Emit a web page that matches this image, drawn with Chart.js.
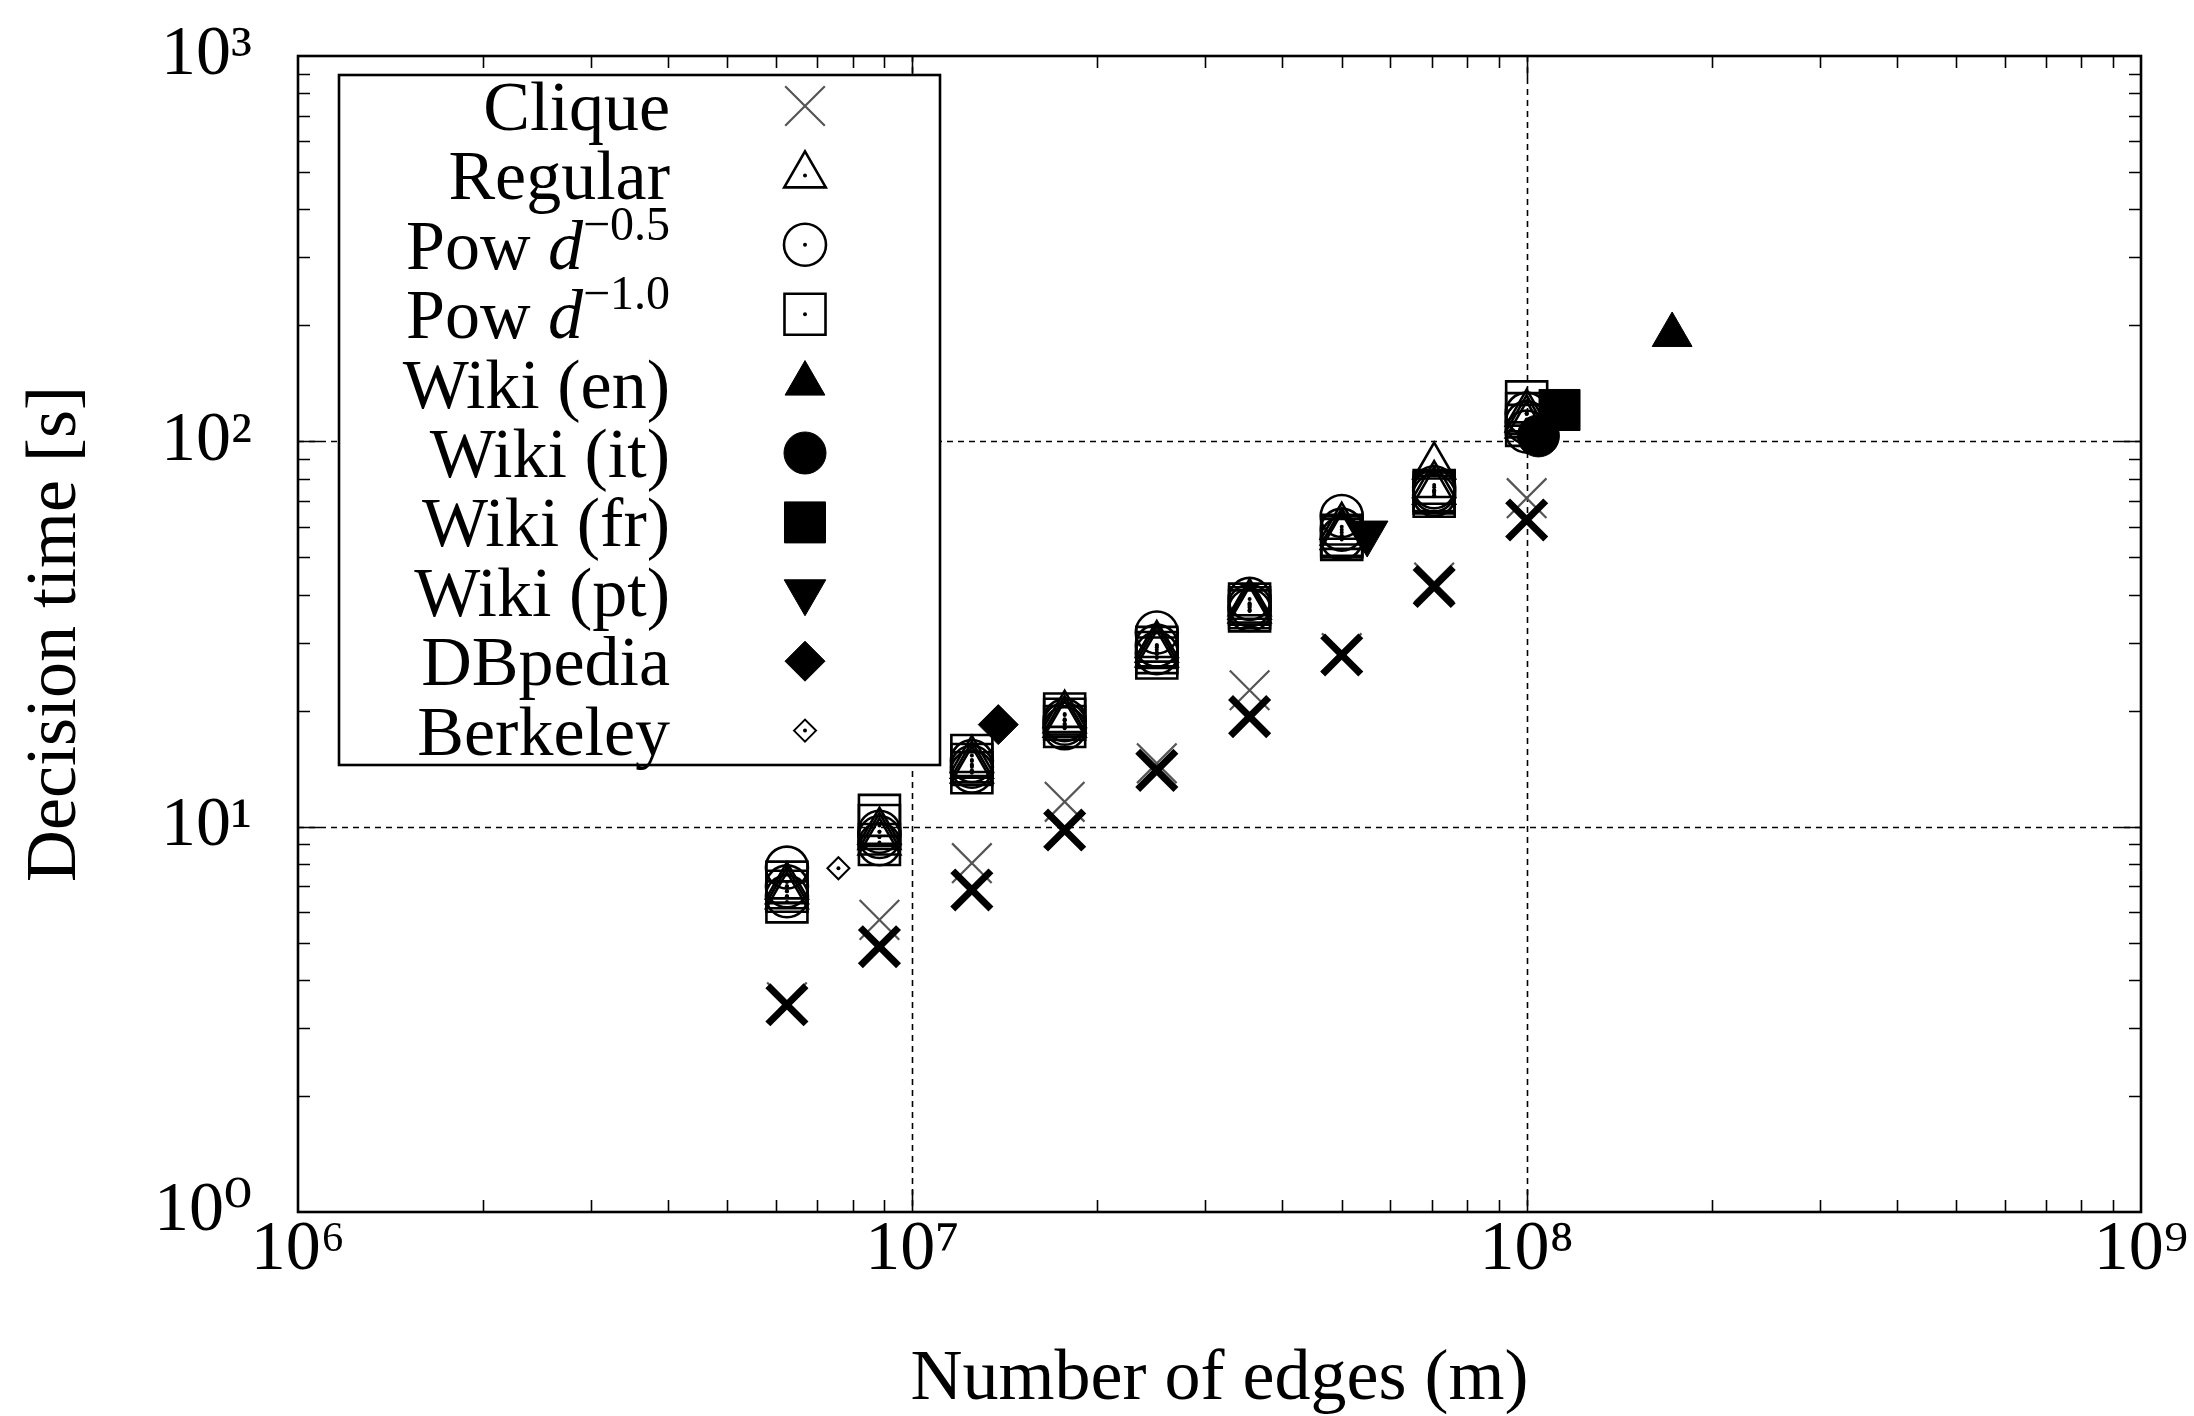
<!DOCTYPE html>
<html>
<head>
<meta charset="utf-8">
<script src="https://cdn.jsdelivr.net/npm/chart.js@4/dist/chart.umd.min.js"></script>
<style>
html,body{margin:0;padding:0;background:#fff;}
#wrap{width:2194px;height:1416px;position:relative;}
</style>
</head>
<body>
<div id="wrap"><canvas id="c" width="2194" height="1416"></canvas></div>
<script>
// ---------------- data ----------------
const sizes = [6.25e6, 8.84e6, 1.25e7, 1.77e7, 2.5e7, 3.54e7, 5.0e7, 7.07e7, 1.0e8];

const cliqueThin = [3.5, 5.73, 8.04, 11.6, 14.6, 22.6, 28.2, 43.0, 71.2];
const cliqueBold = [3.45, 4.88, 6.85, 9.80, 14.0, 19.3, 27.9, 42.0, 62.5];

// three instances per graph size
const regular = [[6.6,6.8,7.0],[9.1,9.4,9.7],[14.0,14.4,14.9],[18.4,18.9,19.5],[28.0,28.8,29.6],
                 [36.4,37.2,38.0],[56.5,58.0,60.0],[74,77,86],[110,114,118]];
const pow05   = [[6.6,7.0,7.83],[9.0,9.4,9.7],[13.9,14.3,14.8],[18.0,18.5,18.9],[28.2,29.5,31.9],
                 [36.5,37.5,39.0],[56.0,59.0,64.0],[72.5,74.5,76.0],[106,112,118]];
const pow10   = [[6.38,6.8,7.18],[8.99,10.07,10.7],[13.8,14.5,15.3],[18.2,19.0,19.6],[27.4,28.3,29.2],
                 [36.3,37.0,37.8],[55.6,56.5,57.0],[72.0,73.5,74.5],[110,118,126.6]];

const wikiEn   = [{x: 1.725e8, y: 188.8}];
const wikiIt   = [{x: 1.045e8, y: 103.3}];
const wikiFr   = [{x: 1.131e8, y: 120.6}];
const wikiPt   = [{x: 5.50e7,  y: 57.8}];
const dbpedia  = [{x: 1.38e7,  y: 18.4}];
const berkeley = [{x: 7.58e6,  y: 7.8}];

const xTickValues = [1e6, 1e7, 1e8, 1e9];
const yTickValues = [1, 10, 100, 1000];
const xTitle = 'Number of edges (m)';
const yTitle = 'Decision time [s]';

// legend labels (rich text parts)
const labels = ['Clique', 'Regular', 'Pow d^-0.5', 'Pow d^-1.0', 'Wiki (en)', 'Wiki (it)', 'Wiki (fr)', 'Wiki (pt)', 'DBpedia', 'Berkeley'];

// ---------------- helpers ----------------
const SUP = {'0':'\u2070','1':'\u00B9','2':'\u00B2','3':'\u00B3','6':'\u2076','7':'\u2077','8':'\u2078','9':'\u2079'};
const fmtTick = v => '10' + SUP[String(Math.round(Math.log10(v)))];
const pts = (xs, ys) => xs.map((x, i) => ({x, y: ys[i]}));
const runs = (xs, groups) => xs.flatMap((x, i) => groups[i].map(y => ({x, y})));

const FONT = "'Liberation Serif', 'DejaVu Serif', serif";

function richParts(label) {
  const m = label.match(/^(.*) d\^(.*)$/);
  if (!m) return [{t: label}];
  return [{t: m[1] + ' '}, {t: 'd', it: true}, {t: m[2].replace('-', '\u2212'), sup: true}];
}

function ownDrawPoint(ctx, o, x, y) {
  const r = o.radius, rot = (o.rotation || 0) * Math.PI / 180;
  ctx.beginPath();
  switch (o.pointStyle) {
    case 'circle': ctx.arc(x, y, r, 0, Math.PI * 2); break;
    case 'rect': { const s = Math.SQRT1_2 * r; ctx.rect(x - s, y - s, 2 * s, 2 * s); break; }
    case 'rectRot': ctx.moveTo(x - r, y); ctx.lineTo(x, y - r); ctx.lineTo(x + r, y); ctx.lineTo(x, y + r); ctx.closePath(); break;
    case 'triangle': {
      let a = rot;
      ctx.moveTo(x + Math.sin(a) * r, y - Math.cos(a) * r); a += 2 * Math.PI / 3;
      ctx.lineTo(x + Math.sin(a) * r, y - Math.cos(a) * r); a += 2 * Math.PI / 3;
      ctx.lineTo(x + Math.sin(a) * r, y - Math.cos(a) * r); ctx.closePath(); break;
    }
    case 'crossRot': {
      const d = Math.SQRT1_2 * r;
      ctx.moveTo(x - d, y - d); ctx.lineTo(x + d, y + d);
      ctx.moveTo(x - d, y + d); ctx.lineTo(x + d, y - d); break;
    }
  }
  if (o.pointStyle !== 'crossRot') ctx.fill();
  if (o.borderWidth > 0) ctx.stroke();
}
const drawPoint = (Chart.helpers && Chart.helpers.drawPoint) ? Chart.helpers.drawPoint : ownDrawPoint;

// ---------------- datasets ----------------
const open = (label, data, style, r, order, extra) => Object.assign({
  label, data, pointStyle: style, pointRadius: r, pointHoverRadius: r,
  borderColor: '#000', backgroundColor: 'rgba(0,0,0,0)', pointBorderWidth: 2.6, borderWidth: 2.6,
  showLine: false, order, centerDot: true
}, extra || {});
const filled = (label, data, style, r, order, extra) => Object.assign({
  label, data, pointStyle: style, pointRadius: r, pointHoverRadius: r,
  borderColor: '#000', backgroundColor: '#000', pointBorderWidth: 1, borderWidth: 1,
  showLine: false, order
}, extra || {});

const datasets = [
  Object.assign(open(labels[0], pts(sizes, cliqueThin), 'crossRot', 28, 12), {borderColor: '#555', pointBorderWidth: 2.2, centerDot: false}),
  Object.assign(open(labels[0], pts(sizes, cliqueBold), 'crossRot', 27, 11), {pointBorderWidth: 7, centerDot: false, hideInLegend: true}),
  open(labels[1], runs(sizes, regular), 'triangle', 24, 10),
  open(labels[2], runs(sizes, pow05), 'circle', 21, 9),
  open(labels[3], runs(sizes, pow10), 'rect', 29, 8),
  filled(labels[4], wikiEn, 'triangle', 23, 7),
  filled(labels[5], wikiIt, 'circle', 21, 6),
  filled(labels[6], wikiFr, 'rect', 29, 5),
  filled(labels[7], wikiPt, 'triangle', 24, 4, {pointRotation: 180}),
  filled(labels[8], dbpedia, 'rectRot', 20, 3),
  Object.assign(open(labels[9], berkeley, 'rectRot', 11, 2), {pointBorderWidth: 2})
];

// ---------------- plugins ----------------
const whiteBg = {
  id: 'whiteBg',
  beforeDraw(chart) {
    const ctx = chart.ctx; ctx.save(); ctx.fillStyle = '#fff';
    ctx.fillRect(0, 0, chart.width, chart.height); ctx.restore();
  }
};

const frame = {
  id: 'frame',
  beforeDatasetsDraw(chart) {
    const ctx = chart.ctx, a = chart.chartArea, xs = chart.scales.x, ys = chart.scales.y;
    ctx.save();
    // dotted grid at decades
    ctx.strokeStyle = '#000'; ctx.lineWidth = 1.6; ctx.setLineDash([6, 5]);
    [1e7, 1e8].forEach(v => { const p = Math.round(xs.getPixelForValue(v)) + 0.5;
      ctx.beginPath(); ctx.moveTo(p, a.top); ctx.lineTo(p, a.bottom); ctx.stroke(); });
    [10, 100].forEach(v => { const p = Math.round(ys.getPixelForValue(v)) + 0.5;
      ctx.beginPath(); ctx.moveTo(a.left, p); ctx.lineTo(a.right, p); ctx.stroke(); });
    ctx.setLineDash([]);
    // inward tick marks on all four sides
    ctx.lineWidth = 1.6;
    const tick = (isX, v, len) => {
      ctx.beginPath();
      if (isX) { const p = Math.round(xs.getPixelForValue(v)) + 0.5;
        ctx.moveTo(p, a.bottom); ctx.lineTo(p, a.bottom - len);
        ctx.moveTo(p, a.top); ctx.lineTo(p, a.top + len);
      } else { const p = Math.round(ys.getPixelForValue(v)) + 0.5;
        ctx.moveTo(a.left, p); ctx.lineTo(a.left + len, p);
        ctx.moveTo(a.right, p); ctx.lineTo(a.right - len, p);
      }
      ctx.stroke();
    };
    [6, 7, 8].forEach(d => { for (let m = 2; m <= 9; m++) tick(true, m * Math.pow(10, d), 12); });
    [7, 8].forEach(d => tick(true, Math.pow(10, d), 22));
    [0, 1, 2].forEach(d => { for (let m = 2; m <= 9; m++) tick(false, m * Math.pow(10, d), 12); });
    [1, 2].forEach(d => tick(false, Math.pow(10, d), 22));
    // plot border
    ctx.lineWidth = 2.6;
    ctx.strokeRect(a.left, a.top, a.right - a.left, a.bottom - a.top);
    ctx.restore();
  }
};

const centerDots = {
  id: 'centerDots',
  afterDatasetDraw(chart, args) {
    const ds = chart.data.datasets[args.index];
    if (!ds.centerDot) return;
    const ctx = chart.ctx; ctx.save(); ctx.fillStyle = '#000';
    args.meta.data.forEach(el => { ctx.beginPath(); ctx.arc(el.x, el.y, 2, 0, Math.PI * 2); ctx.fill(); });
    ctx.restore();
  }
};

const boxLegend = {
  id: 'boxLegend',
  afterDatasetsDraw(chart) {
    const ctx = chart.ctx;
    const L = {left: 339, top: 75, w: 601, h: 690, textRight: 670, markX: 805, row0: 106, step: 69.4};
    ctx.save();
    ctx.fillStyle = '#fff'; ctx.fillRect(L.left, L.top, L.w, L.h);
    ctx.strokeStyle = '#000'; ctx.lineWidth = 2.6; ctx.strokeRect(L.left, L.top, L.w, L.h);
    const items = chart.data.datasets.filter(d => !d.hideInLegend);
    const mainSize = 70, supSize = 48;
    items.forEach((ds, i) => {
      const cy = L.row0 + i * L.step;
      const base = cy + 24;
      const parts = richParts(ds.label);
      const fontOf = p => (p.it ? 'italic ' : '') + (p.sup ? supSize : mainSize) + 'px ' + FONT;
      let total = 0;
      parts.forEach(p => { ctx.font = fontOf(p); p.w = ctx.measureText(p.t).width; total += p.w; });
      let x = L.textRight - total;
      ctx.fillStyle = '#000'; ctx.textBaseline = 'alphabetic'; ctx.textAlign = 'left';
      parts.forEach(p => { ctx.font = fontOf(p); ctx.fillText(p.t, x, p.sup ? base - 29 : base); x += p.w; });
      // marker
      ctx.strokeStyle = ds.borderColor; ctx.fillStyle = ds.backgroundColor;
      ctx.lineWidth = ds.pointBorderWidth > 3 ? 2.2 : ds.pointBorderWidth;
      drawPoint(ctx, {pointStyle: ds.pointStyle, radius: ds.pointRadius, rotation: ds.pointRotation || 0,
                      borderWidth: ds.pointBorderWidth}, L.markX, cy);
      if (ds.centerDot) { ctx.fillStyle = '#000'; ctx.beginPath(); ctx.arc(L.markX, cy, 2, 0, Math.PI * 2); ctx.fill(); }
    });
    ctx.restore();
  }
};

// ---------------- chart ----------------
Chart.defaults.font.family = FONT;
Chart.defaults.color = '#000';

new Chart(document.getElementById('c'), {
  type: 'scatter',
  data: { datasets },
  options: {
    responsive: false,
    devicePixelRatio: 1,
    animation: false,
    events: [],
    layout: { padding: { top: 56, right: 53, left: 0, bottom: 0 } },
    plugins: { legend: { display: false }, tooltip: { enabled: false } },
    scales: {
      x: {
        type: 'logarithmic', position: 'bottom', min: 1e6, max: 1e9,
        afterBuildTicks: s => { s.ticks = xTickValues.map(v => ({value: v})); },
        afterFit: s => { s.height = 204; s.paddingLeft = 0; s.paddingRight = 0; },
        grid: { display: false, drawTicks: false },
        border: { display: false },
        ticks: { autoSkip: false, maxRotation: 0, padding: 0, color: '#000',
                 font: { size: 70, family: FONT, lineHeight: 1.1 }, callback: fmtTick },
        title: { display: true, text: xTitle, color: '#000',
                 font: { size: 72, family: FONT, lineHeight: 1 }, padding: { top: 0, bottom: 0 } }
      },
      y: {
        type: 'logarithmic', position: 'left', min: 1, max: 1000,
        afterBuildTicks: s => { s.ticks = yTickValues.map(v => ({value: v})); },
        afterFit: s => { s.width = 298; s.paddingTop = 0; s.paddingBottom = 0; },
        grid: { display: false, drawTicks: false },
        border: { display: false },
        ticks: { autoSkip: false, padding: 46, color: '#000',
                 font: { size: 70, family: FONT }, callback: fmtTick },
        title: { display: true, text: yTitle, color: '#000',
                 font: { size: 72, family: FONT, lineHeight: 1 }, padding: { top: 20, bottom: 0 } }
      }
    }
  },
  plugins: [whiteBg, frame, centerDots, boxLegend]
});
</script>
</body>
</html>
